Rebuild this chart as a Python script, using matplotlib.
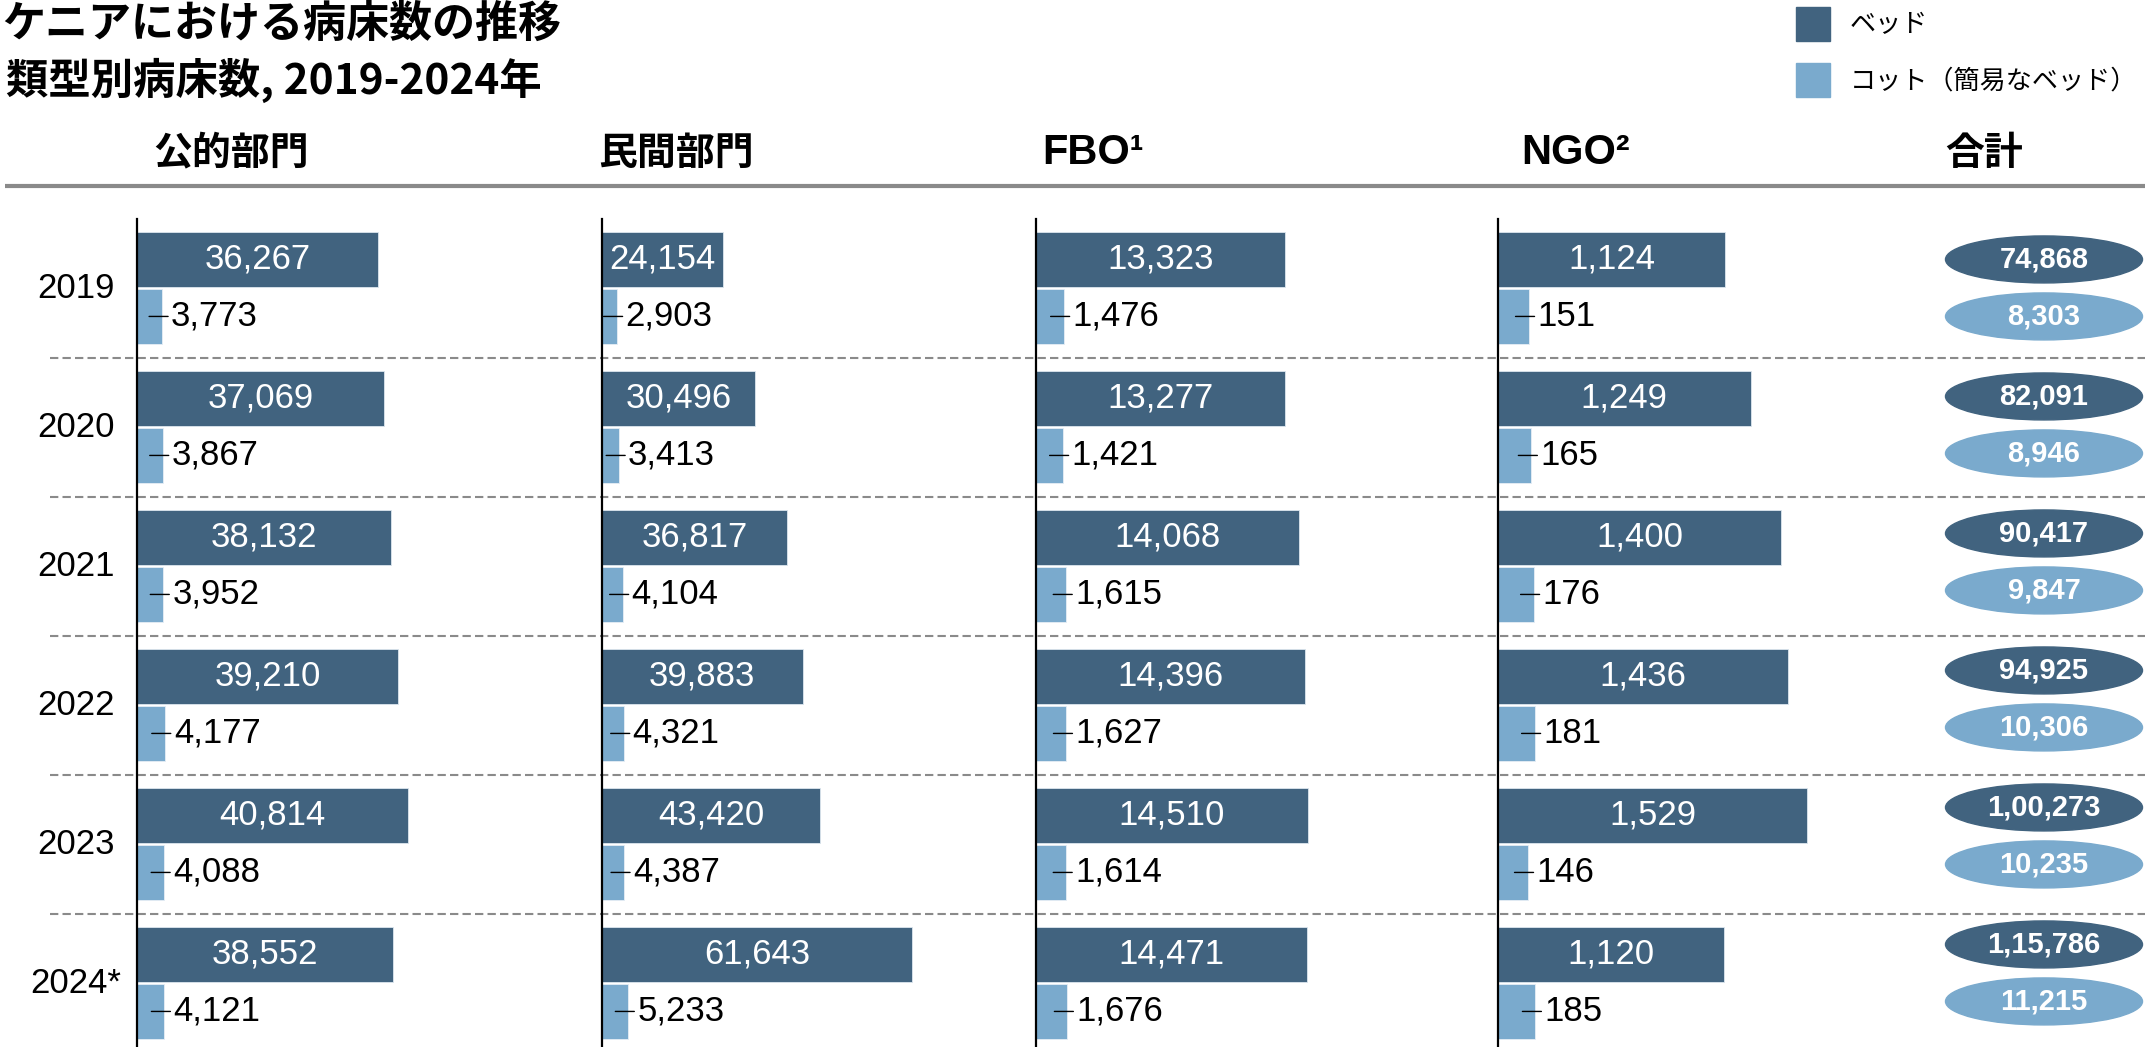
import matplotlib
matplotlib.use('Agg')
import matplotlib.pyplot as plt
from matplotlib.patches import Ellipse, Rectangle
from matplotlib.transforms import offset_copy

# ---------------- data ----------------
years = ['2019', '2020', '2021', '2022', '2023', '2024*']
sector_names = ['公的部門', '民間部門', 'FBO¹', 'NGO²']
beds_public = [36267, 37069, 38132, 39210, 40814, 38552]
cots_public = [3773, 3867, 3952, 4177, 4088, 4121]
beds_private = [24154, 30496, 36817, 39883, 43420, 61643]
cots_private = [2903, 3413, 4104, 4321, 4387, 5233]
beds_fbo = [13323, 13277, 14068, 14396, 14510, 14471]
cots_fbo = [1476, 1421, 1615, 1627, 1614, 1676]
beds_ngo = [1124, 1249, 1400, 1436, 1529, 1120]
cots_ngo = [151, 165, 176, 181, 146, 185]
total_beds = [74868, 82091, 90417, 94925, 100273, 115786]
total_cots = [8303, 8946, 9847, 10306, 10235, 11215]
legend_labels = ['ベッド', 'コット（簡易なベッド）']
total_header = '合計'
title = 'ケニアにおける病床数の推移'
subtitle = '類型別病床数, 2019-2024年'

# ---------------- style ----------------
DARK = '#41637F'
LIGHT = '#7AAACD'
GRID = '#8A8A8A'
CJK = ['Noto Sans CJK JP', 'DejaVu Sans']
NUM = ['Liberation Sans', 'DejaVu Sans']

W, H = 2145, 1047
fig = plt.figure(figsize=(W / 100, H / 100), dpi=100)


def px_axes(x, y, w, h):
    return fig.add_axes([x / W, 1 - (y + h) / H, w / W, h / H])


def indian(n):
    s = str(n)
    if len(s) <= 3:
        return s
    last3, rest = s[-3:], s[:-3]
    groups = []
    while len(rest) > 2:
        groups.insert(0, rest[-2:])
        rest = rest[:-2]
    if rest:
        groups.insert(0, rest)
    return ','.join(groups) + ',' + last3


# overlay axes in pixel coordinates
ov = px_axes(0, 0, W, H)
ov.set_xlim(0, W)
ov.set_ylim(H, 0)
ov.axis('off')

ROW_TOP = 219
ROW_H = 139
BED_C = 0.291
COT_C = 0.701
BAR_H = 0.396

# title & subtitle
ov.text(2, 24, title, family=CJK, fontsize=31, fontweight='bold', va='center', ha='left')
ov.text(6, 80, subtitle, family=CJK, fontsize=30.5, fontweight='bold', va='center', ha='left')

# legend
for k, (lab, col) in enumerate(zip(legend_labels, [DARK, LIGHT])):
    yy = 7 + 56 * k
    ov.add_patch(Rectangle((1796, yy), 34, 34, color=col))
    ov.text(1850, yy + 18, lab, family=CJK, fontsize=18.8, va='center', ha='left')

# header line
ov.plot([5, W], [186, 186], color=GRID, lw=3, solid_capstyle='butt')

# separators
for k in range(1, len(years)):
    yy = ROW_TOP + ROW_H * k
    ov.plot([50, W], [yy, yy], color=GRID, lw=1.5, linestyle=(0, (4, 2)))

# year labels
for i, yr in enumerate(years):
    ov.text(76, ROW_TOP + ROW_H * (i + 0.5), yr, family=NUM, fontsize=25,
            va='center', ha='center')

# column axes
col_left = [137, 602, 1036, 1498]
col_ppu = [0.00665, 0.00503, 0.01872, 0.2022]
col_width = [440, 420, 440, 420]
header_x = [153, 598, 1042, 1521]
bed_series = [beds_public, beds_private, beds_fbo, beds_ngo]
cot_series = [cots_public, cots_private, cots_fbo, cots_ngo]

n_rows_visible = (H - ROW_TOP) / ROW_H

for c in range(4):
    ax = px_axes(col_left[c], ROW_TOP, col_width[c], H - ROW_TOP)
    ax.set_xlim(0, col_width[c] / col_ppu[c])
    ax.set_ylim(n_rows_visible, 0)
    ax.patch.set_visible(False)
    for s in ['top', 'right', 'bottom']:
        ax.spines[s].set_visible(False)
    ax.spines['left'].set_linewidth(1.6)
    ax.spines['left'].set_color('black')
    ax.set_xticks([])
    ax.set_yticks([])
    yb = [i + BED_C for i in range(len(years))]
    yc = [i + COT_C for i in range(len(years))]
    ax.barh(yb, bed_series[c], height=BAR_H, color=DARK, edgecolor='#DCE6EE', linewidth=0.6)
    ax.barh(yc, cot_series[c], height=BAR_H, color=LIGHT, edgecolor='#E6EEF5', linewidth=0.6)
    for v, y in zip(bed_series[c], yb):
        ax.text(v / 2, y, f'{v:,}', family=NUM, fontsize=25, color='white',
                va='center', ha='center')
    for v, y in zip(cot_series[c], yc):
        ax.annotate('', xy=(v, y), xytext=(v, y),
                    xycoords=offset_copy(ax.transData, fig=fig, x=6, y=0, units='dots'),
                    textcoords=offset_copy(ax.transData, fig=fig, x=-13, y=0, units='dots'),
                    arrowprops=dict(arrowstyle='-', color='black', lw=1.0,
                                    shrinkA=0, shrinkB=0))
        ax.text(v, y, f'{v:,}', family=NUM, fontsize=25, color='black',
                va='center', ha='left',
                transform=offset_copy(ax.transData, fig=fig, x=9, y=0, units='dots'))
    # header
    name = sector_names[c]
    if c < 2:
        ov.text(header_x[c], 153, name, family=CJK, fontsize=28, fontweight='bold',
                va='center', ha='left')
    else:
        ov.text(header_x[c], 153, name, family=NUM,
                fontsize=30, fontweight='bold', va='center', ha='left')

ov.text(1945, 153, total_header, family=CJK, fontsize=28, fontweight='bold',
        va='center', ha='left')

# totals
tax = px_axes(1945, ROW_TOP, 200, H - ROW_TOP)
tax.set_xlim(0, 200)
tax.set_ylim(n_rows_visible, 0)
tax.axis('off')
ELL_STEP = 137 / ROW_H
for i in range(len(years)):
    for val, cc, col in [(total_beds[i], BED_C, DARK), (total_cots[i], COT_C, LIGHT)]:
        y = i * ELL_STEP + cc
        tax.add_patch(Ellipse((99, y), 197, 47 / ROW_H, color=col, clip_on=False))
        tax.text(99, y, indian(val), family=NUM, fontsize=21, fontweight='bold',
                 color='white', va='center', ha='center')

fig.savefig('out.png', dpi=100)
